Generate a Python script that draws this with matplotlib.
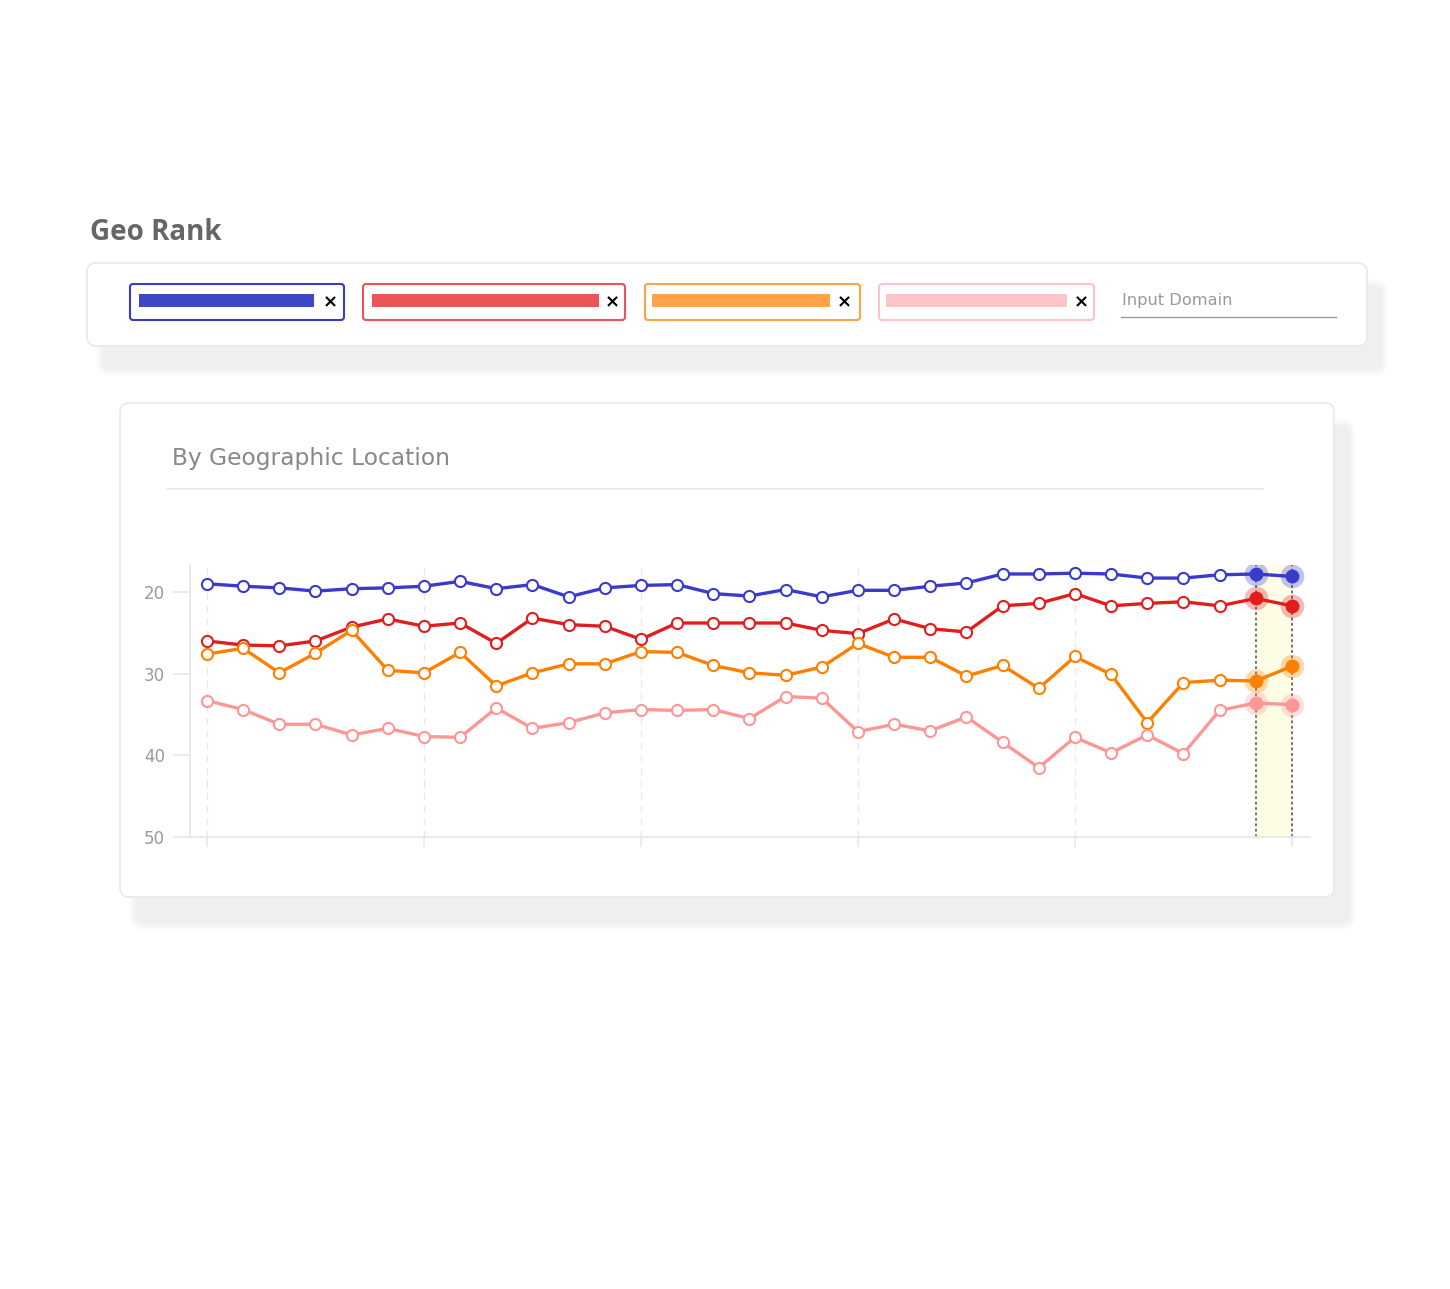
import matplotlib
matplotlib.use("Agg")
import matplotlib.pyplot as plt
from matplotlib.patches import FancyBboxPatch, Rectangle
import numpy as np

# ---------------- data ----------------
blue_rank = [19.0, 19.3, 19.5, 19.9, 19.6, 19.5, 19.3, 18.7, 19.6, 19.1,
             20.6, 19.5, 19.2, 19.1, 20.2, 20.5, 19.7, 20.6, 19.8, 19.8,
             19.3, 18.9, 17.8, 17.8, 17.7, 17.8, 18.3, 18.3, 17.9, 17.8, 18.1]
red_rank = [26.0, 26.5, 26.6, 26.0, 24.3, 23.3, 24.2, 23.8, 26.3, 23.2,
            24.0, 24.2, 25.8, 23.8, 23.8, 23.8, 23.8, 24.7, 25.1, 23.3,
            24.5, 24.9, 21.7, 21.4, 20.2, 21.7, 21.4, 21.2, 21.7, 20.8, 21.7]
orange_rank = [27.6, 26.9, 29.9, 27.5, 24.7, 29.6, 29.9, 27.4, 31.5, 29.9,
               28.8, 28.8, 27.3, 27.4, 29.0, 29.9, 30.2, 29.2, 26.3, 28.0,
               28.0, 30.3, 29.0, 31.8, 27.9, 30.1, 36.0, 31.1, 30.8, 30.9, 29.1]
pink_rank = [33.3, 34.4, 36.2, 36.2, 37.5, 36.7, 37.7, 37.8, 34.2, 36.7,
             36.0, 34.8, 34.4, 34.5, 34.4, 35.5, 32.8, 33.0, 37.1, 36.2,
             37.0, 35.3, 38.4, 41.5, 37.8, 39.7, 37.5, 39.8, 34.5, 33.6, 33.8]
y_ticks = [20, 30, 40, 50]
x_major = [0, 6, 12, 18, 24, 30]
highlight = [29, 30]

line_colors = ["#3a3acb", "#e01e1e", "#ff7f00", "#ff9696"]
chip_colors = ["#4046c8", "#ea5557", "#ffa347", "#fcc4c6"]
chip_borders = ["#3a3acb", "#e8545a", "#ffa347", "#fcc4c6"]
series = [blue_rank, red_rank, orange_rank, pink_rank]

W, H = 1450, 1289
fig = plt.figure(figsize=(W / 100, H / 100), dpi=100)
fig.patch.set_facecolor("white")

# background layer in pixel coordinates
bg = fig.add_axes([0, 0, 1, 1], zorder=0)
bg.set_xlim(0, W)
bg.set_ylim(H, 0)
bg.axis("off")


def rbox(ax, x0, y0, x1, y1, r, fc, ec="none", lw=0, z=1, alpha=1.0):
    p = FancyBboxPatch((x0 + r, y0 + r), (x1 - x0) - 2 * r, (y1 - y0) - 2 * r,
                       boxstyle=f"round,pad={r}", fc=fc, ec=ec, lw=lw,
                       zorder=z, alpha=alpha)
    ax.add_patch(p)


def shadow(ax, x0, y0, x1, y1):
    # soft blurred shadow built from nested translucent boxes
    n = 8
    for i in range(n):
        d = n - i
        rbox(ax, x0 - d, y0 - d, x1 + d, y1 + d, 6 + d, "#b0b0b0",
             z=1, alpha=0.018)


# title
bg.text(90, 232, "Geo Rank", fontsize=20, fontweight="bold", color="#666666",
        va="center", ha="left", family="Open Sans")

# top panel shadow + panel
shadow(bg, 104, 287, 1380, 368)
rbox(bg, 87, 263, 1367, 346, 9, "white", ec="#e8e8e8", lw=1.2, z=2)

# legend chips
chips = [(130, 344, 139, 314, 330), (363, 625, 372, 599, 612),
         (645, 860, 652, 830, 844), (879, 1094, 886, 1067, 1081)]
for (bx0, bx1, rx0, rx1, xx), cc, bc in zip(chips, chip_colors, chip_borders):
    rbox(bg, bx0, 284, bx1, 320, 3, "white", ec=bc, lw=1.5, z=3)
    bg.add_patch(Rectangle((rx0, 294), rx1 - rx0, 13, fc=cc, ec="none", zorder=4))
    bg.text(xx, 302, "×", fontsize=13, fontweight="bold", color="black",
            ha="center", va="center", zorder=5)

bg.text(1122, 301, "Input Domain", fontsize=11.7, color="#999999",
        ha="left", va="center", zorder=5)
bg.plot([1121, 1336], [317, 317], color="#999999", lw=1, zorder=5)

# chart panel shadow + panel
shadow(bg, 137, 427, 1348, 922)
rbox(bg, 120, 403, 1334, 897, 9, "white", ec="#e8e8e8", lw=1.2, z=2)

bg.text(172, 459, "By Geographic Location", fontsize=16.8, color="#888888",
        ha="left", va="center", zorder=5)
bg.plot([167, 1263], [489, 489], color="#e6e6e6", lw=1.2, zorder=5)

# ---------------- chart axes ----------------
ax_l, ax_r, ax_t, ax_b = 190, 1310, 565, 837
ax = fig.add_axes([ax_l / W, 1 - ax_b / H, (ax_r - ax_l) / W, (ax_b - ax_t) / H],
                  zorder=3)
ax.patch.set_alpha(0)

x = np.arange(len(blue_rank))
ax.set_xlim(-0.47, 30.5)
ax.set_ylim(50, 16.7)

ax.axvspan(highlight[0], highlight[1], color="#fdfde6", zorder=0.5, lw=0)
for hx in highlight:
    ax.axvline(hx, color="#666666", lw=1.3, ls=(0, (1.5, 1.5)), zorder=1)

for gx in x_major:
    ax.axvline(gx, color="#e8e8e8", lw=1, ls=(0, (5, 4)), zorder=0.3)

for vals, col in zip(series, line_colors):
    ax.plot(x, vals, color=col, lw=2.4, zorder=3, solid_joinstyle="round")
    ax.plot(x[:-2], vals[:-2], ls="none", marker="o", ms=8, mfc="white",
            mec=col, mew=1.5, zorder=4)
    hx = np.array(highlight)
    hv = [vals[i] for i in highlight]
    ax.plot(hx, hv, ls="none", marker="o", ms=17, mfc=col, mec="none",
            alpha=0.3, zorder=4)
    ax.plot(hx, hv, ls="none", marker="o", ms=10, mfc=col, mec="none", zorder=5)

ax.set_yticks(y_ticks)
ax.set_yticklabels([str(t) for t in y_ticks])
ax.set_xticks(x_major)
ax.set_xticklabels([])
ax.tick_params(axis="y", length=12, width=1.2, color="#e6e6e6",
               labelcolor="#999999", labelsize=12, pad=6)
ax.tick_params(axis="x", length=7, width=1.2, color="#e6e6e6")
for s in ["top", "right"]:
    ax.spines[s].set_visible(False)
for s in ["left", "bottom"]:
    ax.spines[s].set_color("#e6e6e6")
    ax.spines[s].set_linewidth(1.2)

fig.savefig("out.png", dpi=100, facecolor="white")
